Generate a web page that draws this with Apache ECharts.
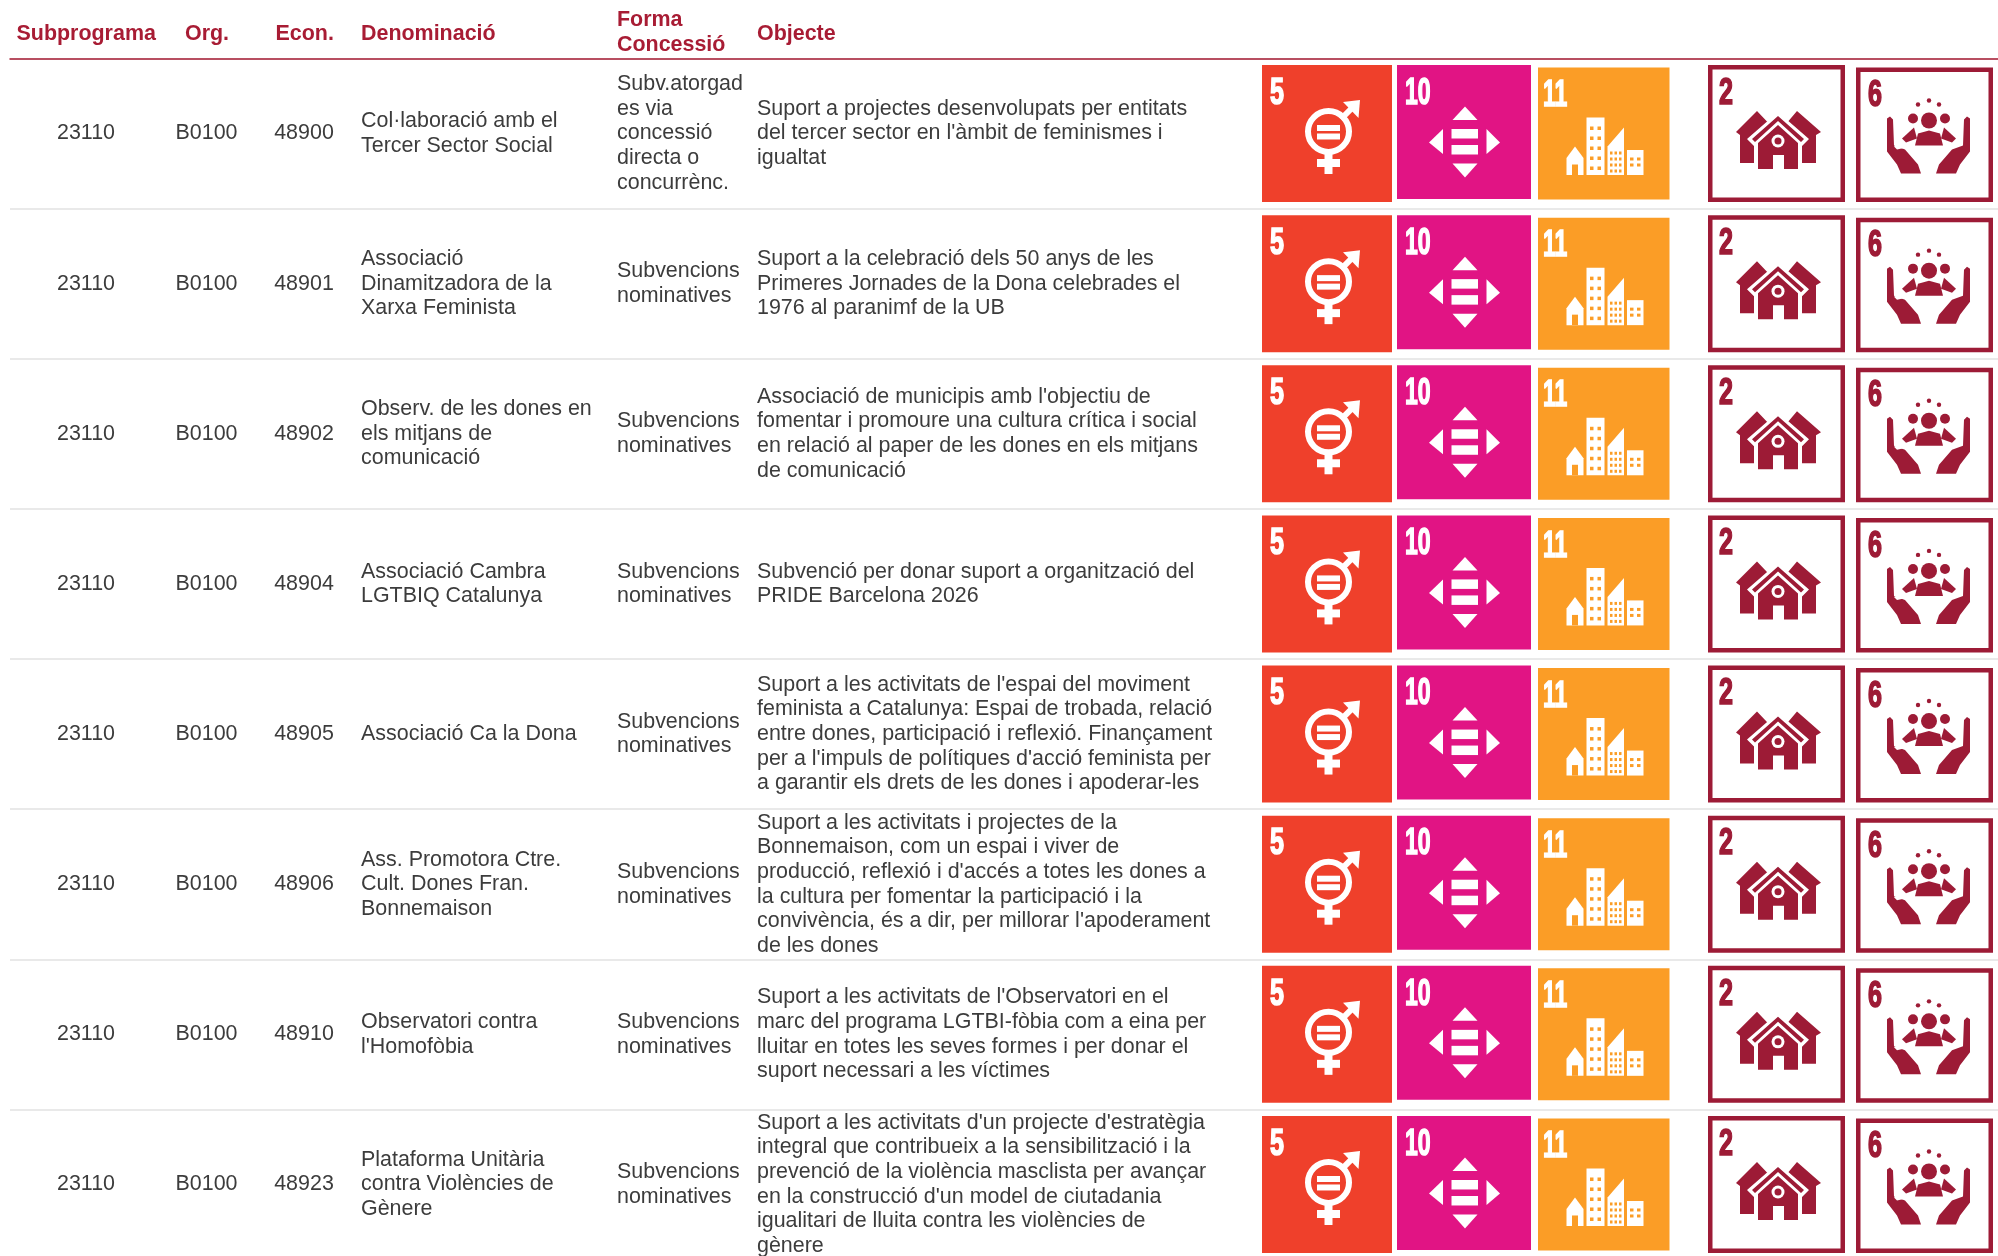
<!DOCTYPE html>
<html>
<head>
<meta charset="utf-8">
<style>
html, body { margin: 0; padding: 0; background: #fff; overflow: hidden; }
#chart { width: 1998px; height: 1256px; }
</style>
<script src="https://cdn.jsdelivr.net/npm/echarts@6/dist/echarts.min.js"></script>
</head>
<body>
<div id="chart"></div>
<script>
// table content
var headers = ["Subprograma", "Org.", "Econ.", "Denominació", "Forma\nConcessió", "Objecte"];
var subprogrames = ["23110", "23110", "23110", "23110", "23110", "23110", "23110", "23110"];
var orgs = ["B0100", "B0100", "B0100", "B0100", "B0100", "B0100", "B0100", "B0100"];
var econs = ["48900", "48901", "48902", "48904", "48905", "48906", "48910", "48923"];
var denominacions = [
    "Col·laboració amb el\nTercer Sector Social",
    "Associació\nDinamitzadora de la\nXarxa Feminista",
    "Observ. de les dones en\nels mitjans de\ncomunicació",
    "Associació Cambra\nLGTBIQ Catalunya",
    "Associació Ca la Dona",
    "Ass. Promotora Ctre.\nCult. Dones Fran.\nBonnemaison",
    "Observatori contra\nl'Homofòbia",
    "Plataforma Unitària\ncontra Violències de\nGènere"
];
var formes = [
    "Subv.atorgad\nes via\nconcessió\ndirecta o\nconcurrènc.",
    "Subvencions\nnominatives",
    "Subvencions\nnominatives",
    "Subvencions\nnominatives",
    "Subvencions\nnominatives",
    "Subvencions\nnominatives",
    "Subvencions\nnominatives",
    "Subvencions\nnominatives"
];
var objectes = [
    "Suport a projectes desenvolupats per entitats\ndel tercer sector en l'àmbit de feminismes i\nigualtat",
    "Suport a la celebració dels 50 anys de les\nPrimeres Jornades de la Dona celebrades el\n1976 al paranimf de la UB",
    "Associació de municipis amb l'objectiu de\nfomentar i promoure una cultura crítica i social\nen relació al paper de les dones en els mitjans\nde comunicació",
    "Subvenció per donar suport a organització del\nPRIDE Barcelona 2026",
    "Suport a les activitats de l'espai del moviment\nfeminista a Catalunya: Espai de trobada, relació\nentre dones, participació i reflexió. Finançament\nper a l'impuls de polítiques d'acció feminista per\na garantir els drets de les dones i apoderar-les",
    "Suport a les activitats i projectes de la\nBonnemaison, com un espai i viver de\nproducció, reflexió i d'accés a totes les dones a\nla cultura per fomentar la participació i la\nconvivència, és a dir, per millorar l'apoderament\nde les dones",
    "Suport a les activitats de l'Observatori en el\nmarc del programa LGTBI-fòbia com a eina per\nlluitar en totes les seves formes i per donar el\nsuport necessari a les víctimes",
    "Suport a les activitats d'un projecte d'estratègia\nintegral que contribueix a la sensibilització i la\nprevenció de la violència masclista per avançar\nen la construcció d'un model de ciutadania\nigualitari de lluita contra les violències de\ngènere"
];
var icons = ["5", "10", "11", "2", "6"];
var rowNames = econs;

// layout
var RED = "#a81c34", TEXT = "#3c3c3c", WINE = "#9d1b36";
var FONT = "Liberation Sans";
var FS = 21.45, LH = 24.67;
var ROW_H = 150.14, TOP = 58.5;
var headerX = [16.5, 185, 275.5, 361, 617, 757];
var columns = [
    { x: 86, align: "center", values: subprogrames },
    { x: 206.5, align: "center", values: orgs },
    { x: 304, align: "center", values: econs },
    { x: 361, align: "left", values: denominacions },
    { x: 617, align: "left", values: formes },
    { x: 757, align: "left", values: objectes }
];
// box of every icon, x and y from the top of the row
var iconBox = {
    "5": { x: 1262, y: 6.5, w: 130, h: 137 },
    "10": { x: 1397, y: 6.5, w: 134, h: 134 },
    "11": { x: 1538, y: 9, w: 131.5, h: 132 },
    "2": { x: 1708, y: 6.5, w: 137, h: 137 },
    "6": { x: 1856, y: 9, w: 137, h: 134.5 }
};

function poly(points, fill) {
    return { type: "polygon", shape: { points: points }, style: { fill: fill } };
}
function rect(x, y, w, h, fill) {
    return { type: "rect", shape: { x: x, y: y, width: w, height: h }, style: { fill: fill } };
}
function circle(cx, cy, r, fill) {
    return { type: "circle", shape: { cx: cx, cy: cy, r: r }, style: { fill: fill } };
}
function num(text, x, scale, fill) {
    return {
        type: "text", x: x, y: 10, scaleX: scale,
        style: { text: text, fill: fill, stroke: fill, lineWidth: 1.6, font: "bold 37px 'Liberation Sans'", verticalAlign: "top", align: "left" }
    };
}

function icon5(w) {
    var c = "#ef402b";
    return [
        rect(0, 0, 130, 137, c),
        num("5", 8, 0.68, w),
        { type: "circle", shape: { cx: 66.5, cy: 66.5, r: 20.5 }, style: { fill: "none", stroke: w, lineWidth: 6 } },
        rect(55, 60, 23, 6, w), rect(55, 68.5, 23, 6, w),
        rect(62.5, 89, 8, 20, w), rect(55, 94, 23, 8, w),
        { type: "line", shape: { x1: 79, y1: 54, x2: 94, y2: 39 }, style: { stroke: w, lineWidth: 6 } },
        poly([[98, 35], [81, 37], [96.5, 53]], w)
    ];
}
function icon10(w) {
    return [
        rect(0, 0, 134, 134, "#e11484"),
        num("10", 8, 0.62, w),
        poly([[68, 41.5], [55.5, 55], [80.5, 55]], w),
        poly([[68, 112.5], [55.5, 98.5], [80.5, 98.5]], w),
        poly([[32, 77.5], [46, 64], [46, 89]], w),
        poly([[103, 77.5], [89.5, 64], [89.5, 89]], w),
        rect(54.5, 64, 26.5, 9.5, w), rect(54.5, 80, 26.5, 9.5, w)
    ];
}
function icon11(w) {
    var c = "#fb9d26", out = [rect(0, 0, 131.5, 132, c), num("11", 5, 0.62, w)];
    out.push(poly([[37, 79], [28.5, 90.5], [28.5, 107.5], [45.5, 107.5], [45.5, 90.5]], w));
    out.push(rect(34, 97, 6, 10.5, c));
    out.push(rect(48.5, 50, 18, 57.5, w));
    out.push(poly([[86, 60], [69.5, 79], [69.5, 107.5], [86, 107.5]], w));
    out.push(rect(89, 82.5, 16.5, 25, w));
    [59, 69, 79, 89, 99].forEach(function (y) {
        out.push(rect(52, y, 3.5, 3.5, c), rect(59.5, y, 3.5, 3.5, c));
    });
    [72, 76.5, 81].forEach(function (x) {
        [84, 90, 96, 102].forEach(function (y) { out.push(rect(x, y, 2.5, 3, c)); });
    });
    [92, 99].forEach(function (x) {
        [90, 96].forEach(function (y) { out.push(rect(x, y, 3.5, 3, c)); });
    });
    return out;
}
function frame(w, h, c) {
    return [
        rect(0, 0, w, h, "#fff"),
        { type: "rect", shape: { x: 2.25, y: 2.25, width: w - 4.5, height: h - 4.5 }, style: { fill: "none", stroke: c, lineWidth: 4.5 } }
    ];
}
function icon2() {
    var c = WINE, out = frame(137, 137, c);
    out.push(num("2", 11, 0.68, c));
    // side houses, then the front one with a white outline
    out.push(poly([[28, 67], [49, 46], [68, 66], [68, 98], [32, 98], [32, 70]], c));
    out.push(poly([[113, 67], [89, 46], [72, 66], [72, 98], [108, 98], [108, 70]], c));
    out.push(poly([[70, 47], [39, 74], [46, 81], [46, 106], [94, 106], [94, 81], [101, 74]], "#fff"));
    out.push(poly([[70, 51], [44, 74], [47, 77], [70, 56], [93, 77], [96, 74]], c));
    out.push(poly([[70, 60], [50, 78], [50, 104], [65, 104], [65, 90], [76, 90], [76, 104], [90, 104], [90, 78]], c));
    out.push(circle(70, 76, 6.5, "#fff"), circle(70, 76, 3.5, c));
    return out;
}
function icon6() {
    var c = WINE, out = frame(137, 134.5, c);
    out.push(num("6", 12, 0.68, c));
    // hands
    out.push(poly([[31, 51], [34, 49], [37, 52], [38, 78], [49, 82], [62, 97], [65, 106], [45, 106], [41, 97], [31, 84]], c));
    out.push(poly([[114, 51], [111, 49], [108, 52], [107, 78], [96, 82], [83, 97], [80, 106], [100, 106], [104, 97], [114, 84]], c));
    out.push(poly([[41, 82], [38, 79], [44, 76], [50, 80]], "#fff"));
    // people
    out.push(circle(73, 53, 8, c), circle(57, 51, 5, c), circle(89, 51, 5, c));
    out.push(circle(62, 37, 2.2, c), circle(73, 33, 2.2, c), circle(83, 37, 2.2, c));
    out.push(poly([[58, 60], [46, 71], [50, 75], [61, 71]], c), poly([[88, 60], [100, 71], [96, 75], [85, 71]], c));
    out.push(poly([[62, 66], [73, 63], [84, 66], [87, 78], [59, 78]], c));
    return out;
}
var iconShapes = { "5": icon5, "10": icon10, "11": icon11, "2": icon2, "6": icon6 };

// every text cell and every icon is one datum of its series
var cells = [];
columns.forEach(function (col) {
    col.values.forEach(function (v, row) {
        cells.push({ x: col.x, row: row, text: v, align: col.align });
    });
});
var iconCells = [];
rowNames.forEach(function (n, row) {
    icons.forEach(function (id) {
        iconCells.push({ x: iconBox[id].x, row: row, id: id });
    });
});

var chart = echarts.init(document.getElementById("chart"), null, { renderer: "canvas" });
chart.setOption({
    animation: false,
    backgroundColor: "#fff",
    grid: { left: 10, width: 1988, top: TOP, height: ROW_H * rowNames.length, outerBoundsMode: "none" },
    xAxis: {
        type: "value", position: "top", min: 10, max: 1998,
        axisLine: { show: true, onZero: false, lineStyle: { color: RED, width: 1.5 } },
        axisTick: { show: false }, axisLabel: { show: false }, splitLine: { show: false }
    },
    yAxis: {
        type: "category", inverse: true, data: rowNames,
        axisLine: { show: false }, axisTick: { show: false }, axisLabel: { show: false },
        splitLine: { show: true, interval: 0, lineStyle: { color: "#e2e2e2", width: 1.5 } }
    },
    graphic: headers.map(function (h, i) {
        return {
            type: "text", left: headerX[i], top: i === 4 ? 8 : 22, silent: true,
            style: { text: h, fill: RED, font: "bold " + FS + "px '" + FONT + "'", lineHeight: LH }
        };
    }),
    series: [
        {
            type: "custom", silent: true, clip: false,
            encode: { x: 0, y: 1 },
            data: cells.map(function (c) { return [c.x, c.row]; }),
            renderItem: function (params, api) {
                var c = cells[params.dataIndex];
                var p = api.coord([api.value(0), api.value(1)]);
                return {
                    type: "text", x: p[0], y: p[1],
                    style: {
                        text: c.text, fill: TEXT, align: c.align, verticalAlign: "middle",
                        font: FS + "px '" + FONT + "'", lineHeight: LH
                    }
                };
            }
        },
        {
            type: "custom", silent: true, clip: false,
            encode: { x: 0, y: 1 },
            data: iconCells.map(function (c) { return [c.x, c.row]; }),
            renderItem: function (params, api) {
                var c = iconCells[params.dataIndex];
                var p = api.coord([api.value(0), api.value(1)]);
                var bandTop = p[1] - api.size([0, 1])[1] / 2;
                return {
                    type: "group", x: p[0], y: bandTop + iconBox[c.id].y,
                    children: iconShapes[c.id]("#fff")
                };
            }
        }
    ]
});
</script>
</body>
</html>
